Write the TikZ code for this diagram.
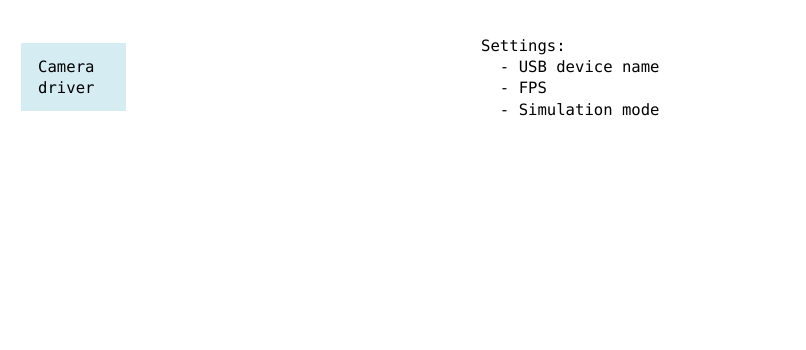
\documentclass[tikz,border=0pt]{standalone}
\usepackage{fontspec}
\setmonofont{DejaVu Sans Mono}
\usepackage{xcolor}
\usepackage{tikz}
\definecolor{drvblue}{RGB}{213,236,243}

\begin{document}
\begin{tikzpicture}[
  x=1pt, y=1pt,
  font=\ttfamily\fontsize{15.6}{21.2}\selectfont,
  drv/.style={fill=drvblue, draw=none, minimum width=105pt, minimum height=68pt,
    inner xsep=17pt, inner ysep=0pt, text width=71pt, align=left},
  note/.style={inner sep=0pt, align=left}]
\useasboundingbox (0,0) rectangle (806,350);
% driver block
\node[drv, anchor=north west] (cam) at (21,307) {Camera\\driver};
% its settings
\node[note, anchor=north west] (settings) at (481,310.5)
  {Settings:\\\ \ - USB device name\\\ \ - FPS\\\ \ - Simulation mode};
\end{tikzpicture}
\end{document}
